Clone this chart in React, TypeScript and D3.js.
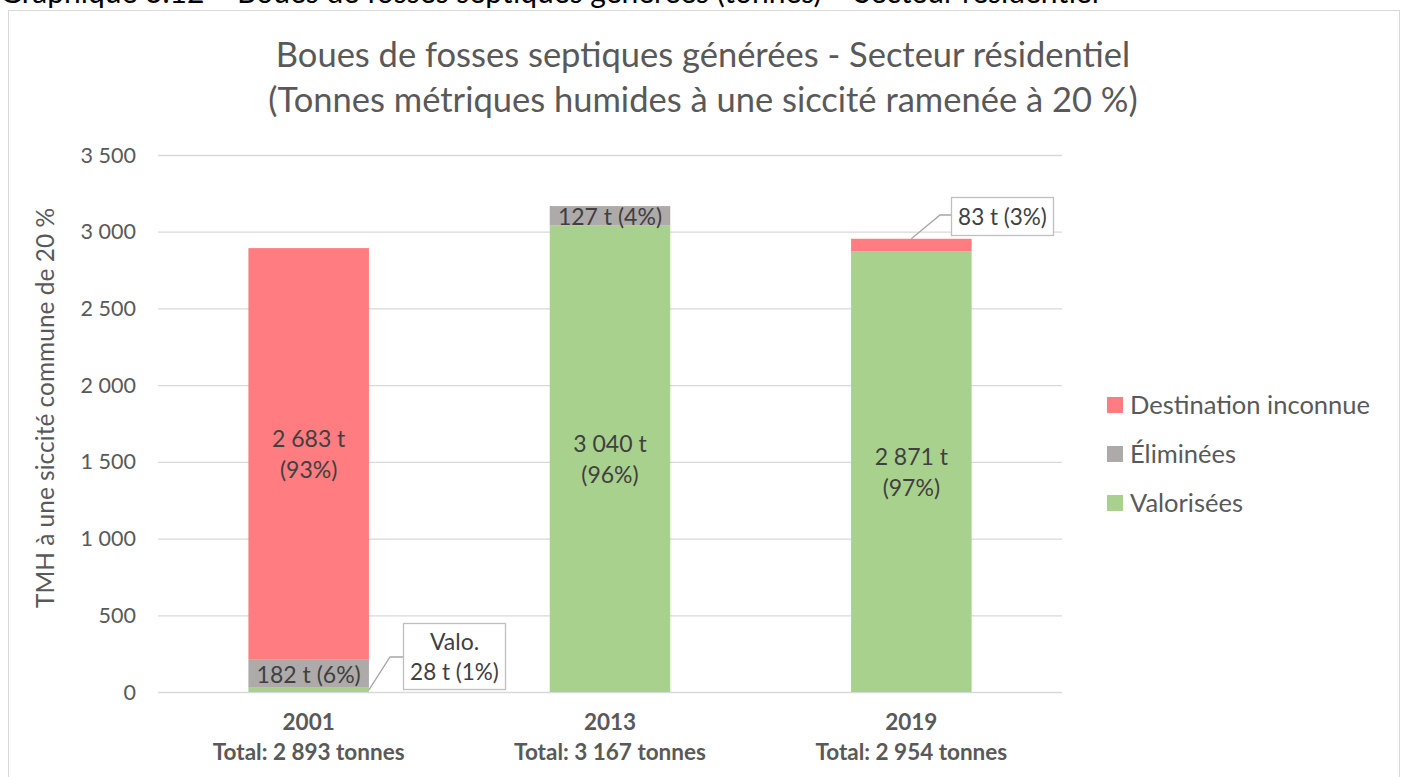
import { useEffect, useRef } from 'react';
import * as d3 from 'd3';

const years = ['2001', '2013', '2019'];
const totalsLabels = ['Total: 2 893 tonnes', 'Total: 3 167 tonnes', 'Total: 2 954 tonnes'];
const valorisees = [28, 3040, 2871];
const eliminees = [182, 127, 0];
const inconnue = [2683, 0, 83];
const yTicks = [0, 500, 1000, 1500, 2000, 2500, 3000, 3500];
const seriesNames = ['Valorisées', 'Éliminées', 'Destination inconnue'];
const seriesColors = ['#A9D18E', '#AEAAAA', '#FF7C80'];

const FONT = 'Lato, "Open Sans", sans-serif';
const fmt = (v: number) => d3.format(',')(v).replace(/,/g, ' ');

export default function App() {
  const svgRef = useRef<SVGSVGElement>(null);

  useEffect(() => {
    if (!svgRef.current) return;
    const svg = d3.select(svgRef.current);
    svg.selectAll('*').remove();

    const width = 1407;
    const height = 777;
    const plot = { left: 158, right: 1062, top: 155, bottom: 692 };

    svg.append('rect').attr('width', width).attr('height', height).attr('fill', 'white');

    // Cut-off caption above the chart
    svg.append('text')
      .attr('x', 0).attr('y', 3)
      .style('font-family', FONT).style('font-size', '30px').attr('fill', '#000')
      .text('Graphique 3.12 – Boues de fosses septiques générées (tonnes) – Secteur résidentiel');

    // Chart frame
    svg.append('rect')
      .attr('x', 8.5).attr('y', 10.5).attr('width', 1391).attr('height', 780)
      .attr('fill', 'white').attr('stroke', '#d9d9d9');

    const x = d3.scaleBand().domain(years).range([plot.left, plot.right])
      .paddingInner(0.6).paddingOuter(0.3);
    const y = d3.scaleLinear().domain([0, 3500]).range([plot.bottom, plot.top]);

    // Gridlines
    svg.append('g').selectAll('line').data(yTicks).enter().append('line')
      .attr('x1', plot.left).attr('x2', plot.right)
      .attr('y1', d => y(d) + 0.5).attr('y2', d => y(d) + 0.5)
      .attr('stroke', '#d9d9d9').attr('stroke-width', 1.3);

    svg.append('g').selectAll('text').data(yTicks).enter().append('text')
      .attr('x', 136).attr('y', d => y(d)).attr('dy', '0.35em')
      .attr('text-anchor', 'end')
      .style('font-family', FONT).style('font-size', '21.5px').attr('fill', '#595959')
      .text(d => fmt(d));

    // Stacked bars
    const rows = years.map((yr, i) => ({ year: yr, Valorisées: valorisees[i], Éliminées: eliminees[i], 'Destination inconnue': inconnue[i] }));
    const stack = d3.stack<any>().keys(seriesNames)(rows);
    stack.forEach((layer, si) => {
      svg.append('g').selectAll('rect').data(layer).enter().append('rect')
        .attr('x', d => x(d.data.year)!)
        .attr('width', x.bandwidth())
        .attr('y', d => y(d[1]))
        .attr('height', d => y(d[0]) - y(d[1]))
        .attr('fill', seriesColors[si]);
    });

    const lbl = (tx: number, ty: number, t: string, size = 23) =>
      svg.append('text').attr('x', tx).attr('y', ty).attr('dy', '0.35em')
        .attr('text-anchor', 'middle')
        .style('font-family', FONT).style('font-size', `${size}px`).attr('fill', '#404040')
        .text(t);

    const cx = (yr: string) => x(yr)! + x.bandwidth() / 2;
    const pct = (v: number, i: number) => Math.round((v / (valorisees[i] + eliminees[i] + inconnue[i])) * 100);

    // Big segment labels
    const big: [number, number[]][] = [[0, [210, 2893]], [1, [0, 3040]], [2, [0, 2871]]];
    const bigVals = [inconnue[0], valorisees[1], valorisees[2]];
    big.forEach(([i, [a, b]], k) => {
      const mid = y((a + b) / 2);
      lbl(cx(years[i]), mid - 15, `${fmt(bigVals[k])} t`);
      lbl(cx(years[i]), mid + 16, `(${pct(bigVals[k], i)}%)`);
    });

    // Small segment labels
    lbl(cx('2001'), y(valorisees[0] + eliminees[0] / 2) + 1, `${eliminees[0]} t (${pct(eliminees[0], 0)}%)`);
    lbl(cx('2013'), y(valorisees[1] + eliminees[1] / 2) + 1, `${eliminees[1]} t (${pct(eliminees[1], 1)}%)`);

    // Callout: Valo. 2001
    const b1x = x('2001')! + x.bandwidth();
    svg.append('polyline')
      .attr('points', `${b1x},${y(valorisees[0] / 2)} 390,657 403,657`)
      .attr('fill', 'none').attr('stroke', '#a6a6a6').attr('stroke-width', 1.3);
    svg.append('rect').attr('x', 403.5).attr('y', 623.5).attr('width', 102).attr('height', 66)
      .attr('fill', 'white').attr('stroke', '#bfbfbf').attr('stroke-width', 1.3);
    lbl(454.5, 642, 'Valo.');
    lbl(454.5, 672, `${valorisees[0]} t (${pct(valorisees[0], 0)}%)`, 22.5);

    // Callout: 83 t 2019
    const b3x = cx('2019');
    svg.append('polyline')
      .attr('points', `${b3x},${y(valorisees[2] + inconnue[2])} 940,215 951,215`)
      .attr('fill', 'none').attr('stroke', '#a6a6a6').attr('stroke-width', 1.3);
    svg.append('rect').attr('x', 951.5).attr('y', 197.5).attr('width', 102).attr('height', 38)
      .attr('fill', 'white').attr('stroke', '#bfbfbf').attr('stroke-width', 1.3);
    lbl(1002.5, 217, `${inconnue[2]} t (${pct(inconnue[2], 2)}%)`, 22.5);

    // X axis labels
    years.forEach((yr, i) => {
      svg.append('text').attr('x', cx(yr)).attr('y', 722).attr('dy', '0.35em')
        .attr('text-anchor', 'middle').style('font-family', FONT).style('font-size', '22.5px')
        .style('font-weight', 'bold').attr('fill', '#595959').text(yr);
      svg.append('text').attr('x', cx(yr)).attr('y', 752).attr('dy', '0.35em')
        .attr('text-anchor', 'middle').style('font-family', FONT).style('font-size', '22.5px')
        .style('font-weight', 'bold').attr('fill', '#595959').text(totalsLabels[i]);
    });

    // Y axis title
    svg.append('text')
      .attr('transform', 'translate(45,408) rotate(-90)')
      .attr('dy', '0.35em').attr('text-anchor', 'middle')
      .style('font-family', FONT).style('font-size', '24.5px').attr('fill', '#595959')
      .text('TMH à une siccité commune de 20 %');

    // Title
    svg.append('text').attr('x', 703).attr('y', 55).attr('dy', '0.35em')
      .attr('text-anchor', 'middle').style('font-family', FONT).style('font-size', '34.5px')
      .attr('fill', '#595959').text('Boues de fosses septiques générées - Secteur résidentiel');
    svg.append('text').attr('x', 703).attr('y', 100).attr('dy', '0.35em')
      .attr('text-anchor', 'middle').style('font-family', FONT).style('font-size', '34.5px')
      .attr('fill', '#595959').text('(Tonnes métriques humides à une siccité ramenée à 20 %)');

    // Legend
    const legendOrder = [2, 1, 0];
    legendOrder.forEach((si, k) => {
      const ly = 405 + k * 49;
      svg.append('rect').attr('x', 1107).attr('y', ly - 8).attr('width', 16).attr('height', 16)
        .attr('fill', seriesColors[si]);
      svg.append('text').attr('x', 1130).attr('y', ly).attr('dy', '0.35em')
        .style('font-family', FONT).style('font-size', '25.5px').attr('fill', '#595959')
        .text(seriesNames[si]);
    });
  }, []);

  return (
    <div style={{ position: 'absolute', left: 0, top: 0 }}>
      <svg ref={svgRef} width={1407} height={777} style={{ display: 'block' }} />
    </div>
  );
}
